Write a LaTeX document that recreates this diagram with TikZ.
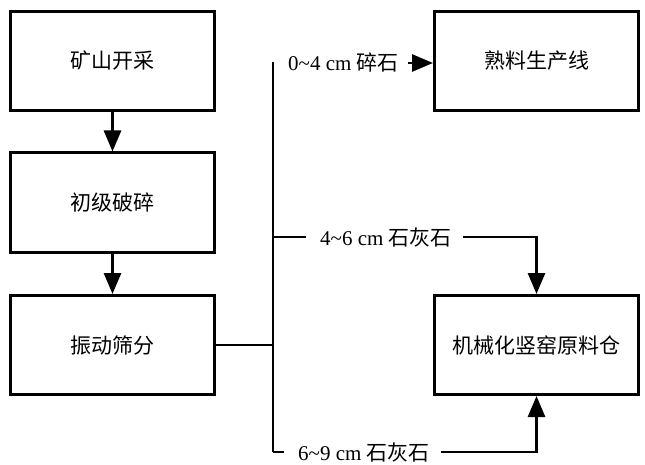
\documentclass[tikz,border=0pt]{standalone}
\usepackage{fontspec}
\setmainfont{Liberation Serif}
\newfontfamily\cjk{Noto Sans CJK SC}
\usetikzlibrary{arrows.meta}
\begin{document}
\begin{tikzpicture}[x=1pt,y=-1pt,
  box/.style={draw, line width=3pt, minimum width=204pt, minimum height=99pt, inner sep=0pt, font=\fontsize{21}{25}\cjk},
  lbl/.style={font=\fontsize{21}{25}\selectfont, inner sep=0pt, anchor=west},
  conn/.style={line width=2.8pt},
  arr/.style={conn, -{Triangle[length=21pt,width=17pt]}}]
\useasboundingbox (0,0) rectangle (645,465);
\node[box] (b1) at (112.5,61) {矿山开采};
\node[box] (b2) at (112.5,202.5) {初级破碎};
\node[box] (b3) at (112.5,345) {振动筛分};
\node[box] (b4) at (536.5,61) {熟料生产线};
\node[box] (b5) at (536.5,345) {机械化竖窑原料仓};
\coordinate (j) at (273,345);
\coordinate (t1) at (273,62);
\coordinate (t2) at (273,237);
\coordinate (t3) at (273,452);
\draw[arr] (b1) -- (b2);
\draw[arr] (b2) -- (b3);
\draw[conn] (b3.east) -- (j);
\draw[conn] (t1) -- (t3);
\node[lbl] (l1) at (288,63) {0\textasciitilde 4 cm {\cjk 碎石}};
\node[lbl] (l2) at (320,237) {4\textasciitilde 6 cm {\cjk 石灰石}};
\node[lbl] (l3) at (298,452) {6\textasciitilde 9 cm {\cjk 石灰石}};
\draw[arr] ([xshift=9pt]l1.east) -- (l1.east -| b4.west);
\draw[conn] (t2) -- ([xshift=-14pt]l2.west);
\draw[arr] ([xshift=11pt]l2.east) -| (b5.north);
\draw[conn] (t3) -- ([xshift=-14pt]l3.west);
\draw[arr] ([xshift=11pt]l3.east) -| (b5.south);
\end{tikzpicture}
\end{document}
